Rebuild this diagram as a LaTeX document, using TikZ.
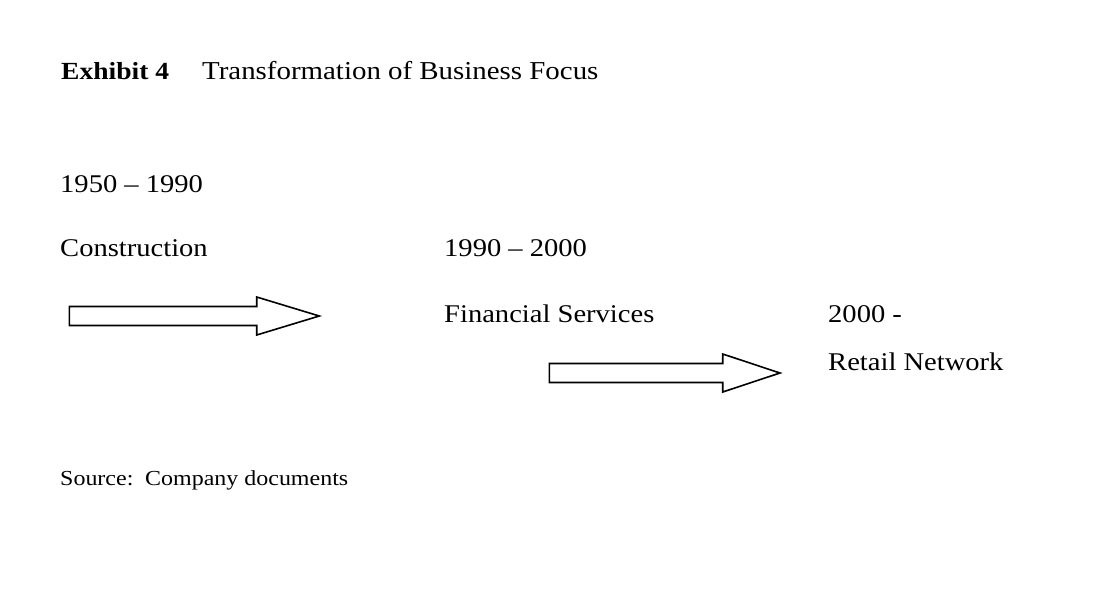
\documentclass[tikz,border=0pt]{standalone}
\usepackage{fontspec}
\setmainfont[FakeStretch=1.12]{Liberation Serif}
\begin{document}
\begin{tikzpicture}[x=1pt,y=-1pt,
  txt/.style={anchor=base west,inner sep=0pt,font=\fontsize{25.5}{30}\selectfont},
  ttl/.style={anchor=base west,inner sep=0pt,font=\fontsize{25.8}{31}\selectfont},
  src/.style={anchor=base west,inner sep=0pt,font=\fontsize{21.4}{26}\selectfont},
  blockarrow/.style={draw=black,line width=1.6pt,fill=white,line join=miter}]
\useasboundingbox (0,0) rectangle (1116,592);
\node[ttl,font=\fontsize{24.6}{30}\selectfont\bfseries] (ex) at (61,79) {Exhibit 4};
\node[ttl] (title) at (202,79) {Transformation of Business Focus};
\node[txt] (y1) at (60,192) {1950 – 1990};
\node[txt] (c1) at (60,256) {Construction};
\node[txt] (y2) at (444,256) {1990 – 2000};
\node[txt] (c2) at (444,322) {Financial Services};
\node[txt] (y3) at (828,322) {2000 -};
\node[txt] (c3) at (828,370) {Retail Network};
\node[src] (s1) at (60,485) {Source:};
\node[src] (s2) at (145,485) {Company documents};
\draw[blockarrow] (69.3,306.5) -- (256.7,306.5) -- (256.7,297) -- (319.3,316) -- (256.7,335) -- (256.7,325.5) -- (69.3,325.5) -- cycle;
\draw[blockarrow] (549.3,363.5) -- (722.7,363.5) -- (722.7,354) -- (780,373) -- (722.7,392) -- (722.7,382.5) -- (549.3,382.5) -- cycle;
\end{tikzpicture}
\end{document}
